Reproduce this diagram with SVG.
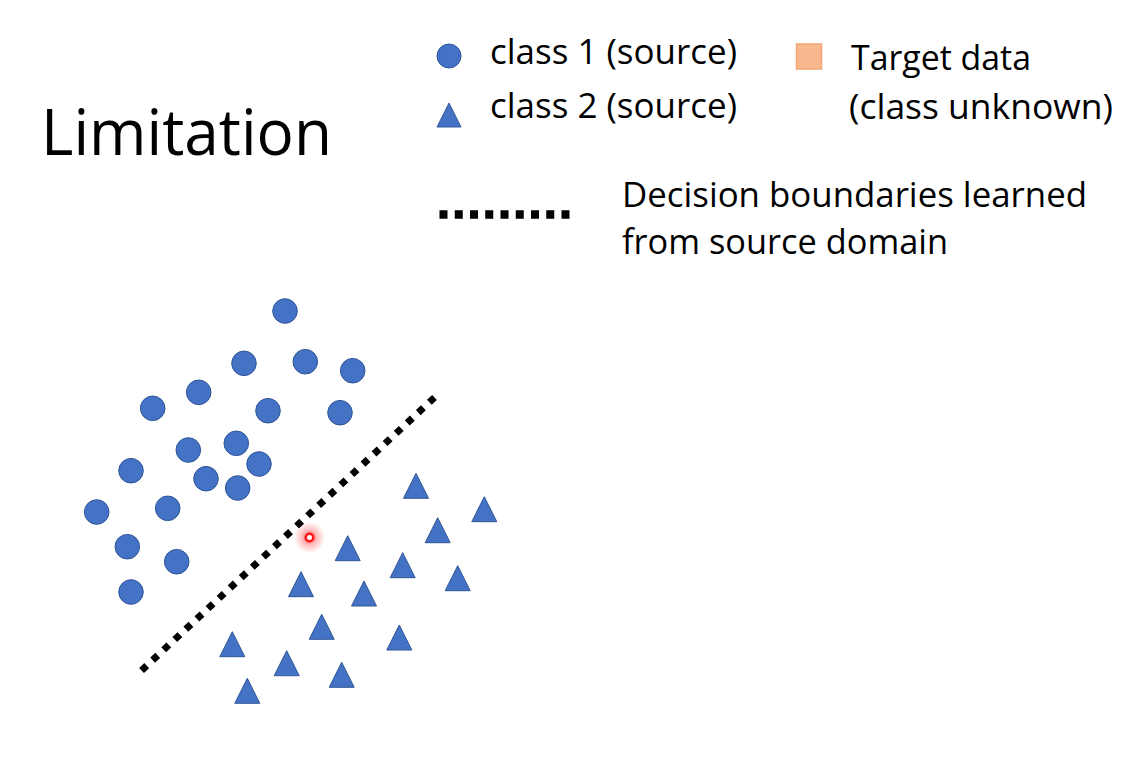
<svg xmlns="http://www.w3.org/2000/svg" xmlns:xlink="http://www.w3.org/1999/xlink" width="1137" height="757" viewBox="0 0 1137 757">
<style>
  .txt { font-family: "Open Sans", "Noto Sans", "Liberation Sans", sans-serif; fill: #000; }
  .lbl { font-size: 34.5px; }
  .title { font-size: 64px; }
  .c1 { fill: #4472C4; stroke: #2F5597; stroke-width: 1; }
  .c2 { fill: #4472C4; stroke: #2F5597; stroke-width: 1; }
  .boundary { fill: none; stroke: #000; }
</style>
<defs>
  <path id="tri" d="M0,0 L12.5,25 L-12.5,25 Z"/>
  <radialGradient id="glow" cx="0.5" cy="0.5" r="0.5">
    <stop offset="0" stop-color="#ff2020" stop-opacity="0.8"/>
    <stop offset="0.5" stop-color="#ff4d4d" stop-opacity="0.35"/>
    <stop offset="1" stop-color="#ff6666" stop-opacity="0"/>
  </radialGradient>
</defs>
<rect x="0" y="0" width="1137" height="757" fill="#ffffff"/>

<g id="title">
  <text class="txt title" x="41" y="155" textLength="291" lengthAdjust="spacingAndGlyphs">Limitation</text>
</g>

<g id="legend">
  <g id="legend-class1">
    <circle class="c1" cx="449" cy="56" r="12"/>
    <text class="txt lbl" x="490" y="64" textLength="247" lengthAdjust="spacingAndGlyphs">class 1 (source)</text>
  </g>
  <g id="legend-class2">
    <use xlink:href="#tri" href="#tri" class="c2" transform="translate(449,103) scale(0.96)"/>
    <text class="txt lbl" x="490" y="118" textLength="247" lengthAdjust="spacingAndGlyphs">class 2 (source)</text>
  </g>
  <g id="legend-target">
    <rect x="796.5" y="44" width="25" height="25" fill="#F8B88E" stroke="#F2A677" stroke-width="1.5"/>
    <text class="txt lbl" x="851" y="70" textLength="180" lengthAdjust="spacingAndGlyphs">Target data</text>
    <text class="txt lbl" x="849" y="119" textLength="264" lengthAdjust="spacingAndGlyphs">(class unknown)</text>
  </g>
  <g id="legend-boundary">
    <line class="boundary" x1="439.5" y1="214.5" x2="569.5" y2="214.5" stroke-width="8.5" stroke-dasharray="8 7.25"/>
    <text class="txt lbl" x="622" y="207" textLength="465" lengthAdjust="spacingAndGlyphs">Decision boundaries learned</text>
    <text class="txt lbl" x="622" y="254" textLength="326" lengthAdjust="spacingAndGlyphs">from source domain</text>
  </g>
</g>

<g id="connectors">
  <line id="decision-boundary" class="boundary" x1="434.5" y1="397.5" x2="141.5" y2="670.5" stroke-width="7" stroke-dasharray="7 8.13"/>
</g>

<g id="class1-points">
  <circle class="c1" cx="285" cy="311" r="12.3"/>
  <circle class="c1" cx="244" cy="363.3" r="12.3"/>
  <circle class="c1" cx="305.3" cy="361.7" r="12.3"/>
  <circle class="c1" cx="352.7" cy="370.7" r="12.3"/>
  <circle class="c1" cx="198.7" cy="392.3" r="12.3"/>
  <circle class="c1" cx="152.7" cy="408.3" r="12.3"/>
  <circle class="c1" cx="268" cy="410.7" r="12.3"/>
  <circle class="c1" cx="340" cy="412.7" r="12.3"/>
  <circle class="c1" cx="188.3" cy="450" r="12.3"/>
  <circle class="c1" cx="236.3" cy="443.3" r="12.3"/>
  <circle class="c1" cx="259" cy="464" r="12.3"/>
  <circle class="c1" cx="131" cy="470.7" r="12.3"/>
  <circle class="c1" cx="206" cy="478.7" r="12.3"/>
  <circle class="c1" cx="237.7" cy="488" r="12.3"/>
  <circle class="c1" cx="96.7" cy="512" r="12.3"/>
  <circle class="c1" cx="167.7" cy="508.3" r="12.3"/>
  <circle class="c1" cx="127.3" cy="546.7" r="12.3"/>
  <circle class="c1" cx="176.7" cy="561.7" r="12.3"/>
  <circle class="c1" cx="131" cy="592" r="12.3"/>
</g>

<g id="class2-points">
  <use xlink:href="#tri" href="#tri" class="c2" x="416" y="473.3"/>
  <use xlink:href="#tri" href="#tri" class="c2" x="484.3" y="496.7"/>
  <use xlink:href="#tri" href="#tri" class="c2" x="437.7" y="517.7"/>
  <use xlink:href="#tri" href="#tri" class="c2" x="347.7" y="535.7"/>
  <use xlink:href="#tri" href="#tri" class="c2" x="402.7" y="552.7"/>
  <use xlink:href="#tri" href="#tri" class="c2" x="457.7" y="565.7"/>
  <use xlink:href="#tri" href="#tri" class="c2" x="301" y="571.7"/>
  <use xlink:href="#tri" href="#tri" class="c2" x="364" y="581"/>
  <use xlink:href="#tri" href="#tri" class="c2" x="321.7" y="614.3"/>
  <use xlink:href="#tri" href="#tri" class="c2" x="399.3" y="625"/>
  <use xlink:href="#tri" href="#tri" class="c2" x="232.3" y="631.7"/>
  <use xlink:href="#tri" href="#tri" class="c2" x="286.7" y="650.7"/>
  <use xlink:href="#tri" href="#tri" class="c2" x="341.7" y="662.3"/>
  <use xlink:href="#tri" href="#tri" class="c2" x="247.3" y="678.3"/>
</g>

<g id="target-point">
  <circle cx="309.5" cy="537.5" r="16" fill="url(#glow)"/>
  <circle cx="309.5" cy="537.5" r="3.8" fill="#ffffff" stroke="#ff1a1a" stroke-width="2.6"/>
</g>
</svg>
